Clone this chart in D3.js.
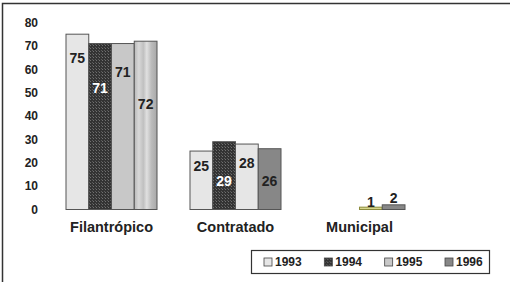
<!DOCTYPE html>
<html>
<head>
<meta charset="utf-8">
<script src="https://cdn.jsdelivr.net/npm/d3@7"></script>
<style>
  body { margin: 0; background: #fff; }
  svg { display: block; font-family: Arial, "Liberation Sans", sans-serif; font-weight: bold; }
</style>
</head>
<body>
<div id="chart"></div>
<script>
// Chart values
const categories = ['Filantrópico', 'Contratado', 'Municipal'];
const years = ['1993', '1994', '1995', '1996'];
const v1993 = [75, 25, 0];
const v1994 = [71, 29, 0];
const v1995 = [71, 28, 1];
const v1996 = [72, 26, 2];
const yTicks = [0, 10, 20, 30, 40, 50, 60, 70, 80];

// fills per series, with the odd per-bar fills seen in the original
const seriesFill = ['#e6e6e6', 'url(#hatch)', '#c8c8c8', '#878787'];
const fillOverride = {
  'Filantrópico|1996': 'url(#stripes)',
  'Contratado|1995': '#e6e6e6',
  'Municipal|1995': '#d6d68c'
};
const strokeOverride = { 'Municipal|1995': '#8c8c3c' };
// label depth below bar top (negative = above)
const labelDepth = {
  'Filantrópico|1993': 24, 'Filantrópico|1994': 45, 'Filantrópico|1995': 29, 'Filantrópico|1996': 63,
  'Contratado|1993': 15, 'Contratado|1994': 39, 'Contratado|1995': 19, 'Contratado|1996': 32,
  'Municipal|1995': -5, 'Municipal|1996': -7
};

function drawChart() {
  const width = 510, height = 282;
  const svg = d3.select('#chart').append('svg')
    .attr('width', width)
    .attr('height', height);

  const defs = svg.append('defs');
  const hatch = defs.append('pattern')
    .attr('id', 'hatch').attr('patternUnits', 'userSpaceOnUse')
    .attr('width', 3).attr('height', 3);
  hatch.append('rect').attr('width', 3).attr('height', 3).attr('fill', '#333');
  hatch.append('rect').attr('width', 1).attr('height', 1).attr('fill', '#707070');
  hatch.append('rect').attr('x', 2).attr('y', 2).attr('width', 1).attr('height', 1).attr('fill', '#5a5a5a');

  const stripes = defs.append('linearGradient')
    .attr('id', 'stripes').attr('x1', 0).attr('x2', 1).attr('y1', 0).attr('y2', 0);
  [['0%', '#b8b8b8'], ['20%', '#d8d8d8'], ['40%', '#c0c0c0'], ['55%', '#e0e0e0'], ['75%', '#bcbcbc'], ['100%', '#a8a8a8']]
    .forEach(([o, c]) => stripes.append('stop').attr('offset', o).attr('stop-color', c));

  // outer frame (top and left visible)
  svg.append('rect')
    .attr('x', 2.5).attr('y', 3.5).attr('width', 520).attr('height', 300)
    .attr('fill', 'none').attr('stroke', '#333').attr('stroke-width', 1.5);

  const y = d3.scaleLinear().domain([0, 80]).range([209.5, 22.5]);
  const x0 = d3.scaleBand().domain(categories).range([41.2, 429.8]).paddingInner(0.266).paddingOuter(0.2);
  const x1 = d3.scaleBand().domain(years).range([0, x0.bandwidth()]);

  const yAxis = svg.append('g')
    .attr('transform', 'translate(38,0)')
    .call(d3.axisLeft(y).tickValues(yTicks).tickSize(0).tickPadding(0));
  yAxis.select('.domain').remove();
  yAxis.selectAll('text')
    .attr('font-size', 12).attr('font-weight', 'bold')
    .attr('font-family', 'Arial, "Liberation Sans", sans-serif').attr('fill', '#222');

  const xAxis = svg.append('g')
    .attr('transform', 'translate(0,222)')
    .call(d3.axisBottom(x0).tickSize(0).tickPadding(0));
  xAxis.select('.domain').remove();
  xAxis.selectAll('text')
    .attr('font-size', 14.5).attr('font-weight', 'bold')
    .attr('font-family', 'Arial, "Liberation Sans", sans-serif').attr('fill', '#222');

  const seriesVals = [v1993, v1994, v1995, v1996];
  const bars = [];
  categories.forEach((c, ci) => {
    years.forEach((yr, si) => {
      const v = seriesVals[si][ci];
      if (v > 0) bars.push({ cat: c, year: yr, si: si, value: v, key: c + '|' + yr });
    });
  });

  const g = svg.append('g');
  g.selectAll('rect')
    .data(bars)
    .enter()
    .append('rect')
    .attr('x', (d) => x0(d.cat) + x1(d.year))
    .attr('y', (d) => y(d.value))
    .attr('width', x1.bandwidth())
    .attr('height', (d) => y(0) - y(d.value))
    .attr('fill', (d) => fillOverride[d.key] || seriesFill[d.si])
    .attr('stroke', (d) => strokeOverride[d.key] || '#555')
    .attr('stroke-width', 1);

  g.selectAll('text')
    .data(bars)
    .enter()
    .append('text')
    .attr('x', (d) => x0(d.cat) + x1(d.year) + x1.bandwidth() / 2)
    .attr('y', (d) => y(d.value) + (labelDepth[d.key] || 15))
    .attr('dy', '0.35em')
    .attr('text-anchor', 'middle')
    .attr('font-size', 14)
    .attr('fill', (d) => (d.si === 1 ? '#fff' : '#222'))
    .text((d) => d.value);

  // legend
  const legend = svg.append('g');
  legend.append('rect')
    .attr('x', 251.5).attr('y', 250.5).attr('width', 238).attr('height', 23)
    .attr('fill', '#fff').attr('stroke', '#333').attr('stroke-width', 1.2);
  const lx = d3.scalePoint().domain(years).range([264, 445]);
  const item = legend.selectAll('g')
    .data(years)
    .enter()
    .append('g')
    .attr('transform', (d) => `translate(${lx(d)},262)`);
  item.append('rect')
    .attr('x', 0).attr('y', -4).attr('width', 8).attr('height', 8)
    .attr('fill', (_d, i) => seriesFill[i])
    .attr('stroke', '#444').attr('stroke-width', 0.8);
  item.append('text')
    .attr('x', 11).attr('dy', '0.36em')
    .attr('font-size', 12).attr('fill', '#222')
    .text((d) => d);
}

document.addEventListener('DOMContentLoaded', drawChart);
</script>
</body>
</html>
